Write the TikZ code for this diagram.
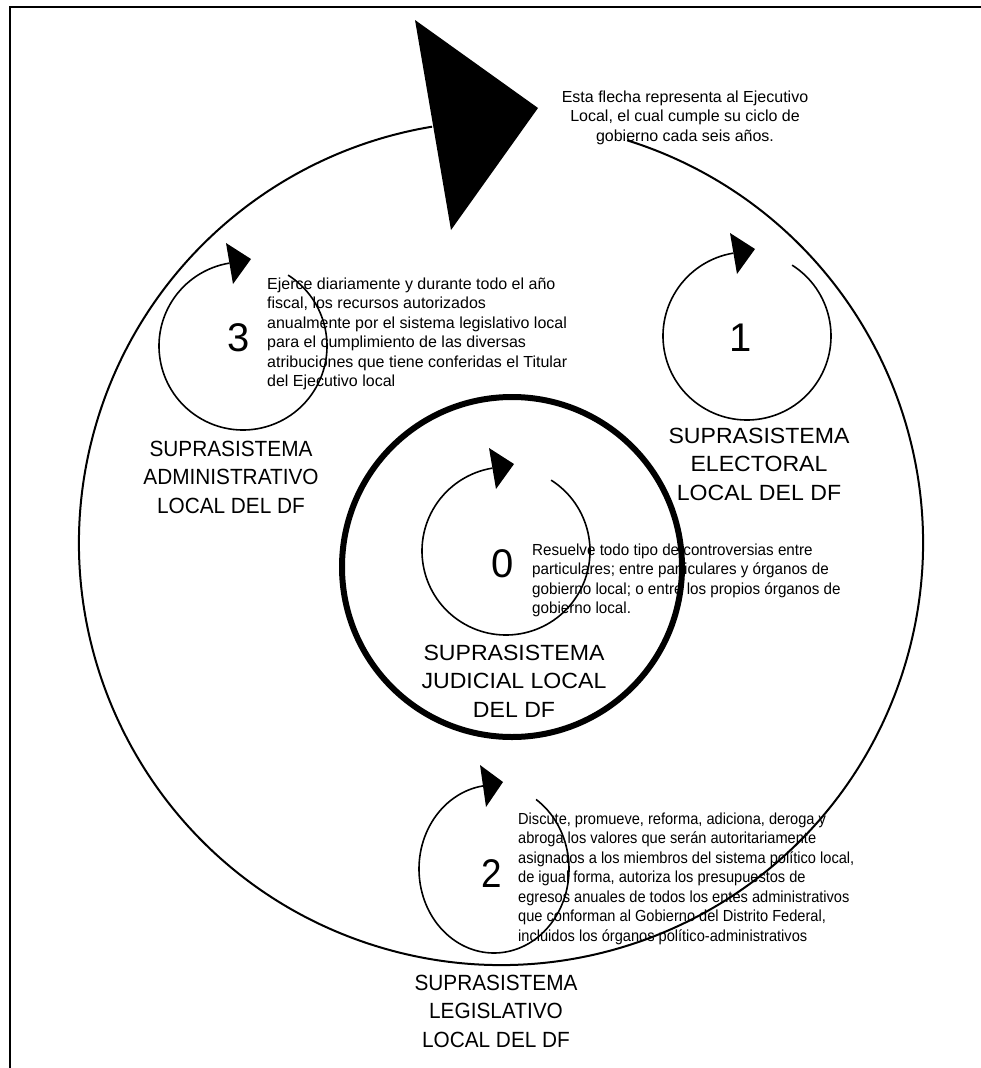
\documentclass[tikz,border=0pt]{standalone}
\usepackage{fontspec}
\setmainfont{Liberation Sans}
\begin{document}
\begin{tikzpicture}[x=1pt,y=1pt,
  frameline/.style={line width=2.3pt},
  cycleline/.style={line width=1.6pt},
  outerline/.style={line width=2pt},
  judline/.style={line width=6pt},
  head/.style={fill=black},
  numeral/.style={font=\fontsize{40}{48}\selectfont, inner sep=0pt},
  sysname/.style={font=\fontsize{22}{28.5}\selectfont, align=center, inner sep=0pt, anchor=base, transform shape},
  note/.style={font=\fontsize{16}{19.5}\selectfont, align=left, inner sep=0pt, anchor=base west, transform shape}
]
\useasboundingbox (0,0) rectangle (981,-1068);

% page frame: top and left rules
\draw[frameline] (10,-1068) -- (10,-7) -- (981,-7);

% outer cycle of the local executive, with its large arrowhead
\coordinate (outer) at (501,-543);
\draw[outerline] (outer) ++(72.6:422) arc[start angle=72.6, end angle=-260.6, radius=422];
\fill[head] (415,-20) -- (538,-108) -- (451,-230) -- cycle;

% judicial suprasystem boundary
\draw[judline] (512,-567) circle[radius=170];

% small cycles: 1 electoral, 3 administrative, 0 judicial
\coordinate (c1) at (747,-336);
\coordinate (c3) at (243,-346);
\coordinate (c0) at (506,-551);
\coordinate (c2) at (494,-869);
\foreach \c in {c1,c3,c0}{
  \draw[cycleline] (\c) ++(57.5:84) arc[start angle=57.5, end angle=-260.7, radius=84];
  \fill[head, shift={(\c)}] (-17,103) -- (8,87) -- (-10,62) -- cycle;
}
% legislative cycle, slightly narrower
\draw[cycleline] (c2) ++(55.9:75 and 84) arc[start angle=55.9, end angle=-261.6, x radius=75, y radius=84];
\fill[head, shift={(c2)}] (-14,104) -- (9,87) -- (-8,62) -- cycle;

% cycle numbers
\node[numeral] (n1) at (741,-338) {1};
\node[numeral] (n3) at (239,-338) {3};
\node[numeral] (n0) at (503,-564) {0};
\node[numeral, xscale=0.92, transform shape] (n2) at (492,-874) {2};

% suprasystem names (anchored on the last line's baseline)
\node[sysname, xscale=1.05] (electoral) at (759,-500) {SUPRASISTEMA\\ELECTORAL\\LOCAL DEL DF};
\node[sysname, xscale=1.05] (judicial) at (514,-717) {SUPRASISTEMA\\JUDICIAL LOCAL\\DEL DF};
\node[sysname, xscale=0.945] (administrativo) at (231,-513) {SUPRASISTEMA\\ADMINISTRATIVO\\LOCAL DEL DF};
\node[sysname, xscale=0.945] (legislativo) at (496,-1047) {SUPRASISTEMA\\LEGISLATIVO\\LOCAL DEL DF};

% explanatory notes (anchored on the last line's baseline)
\node[note, align=center, anchor=base] (ejecutivo) at (685,-141)
  {Esta flecha representa al Ejecutivo\\Local, el cual cumple su ciclo de\\gobierno cada seis años.};
\node[note] (admnote) at (267,-386.5)
  {Ejerce diariamente y durante todo el año\\fiscal, los recursos autorizados\\anualmente por el sistema legislativo local\\para el cumplimiento de las diversas\\atribuciones que tiene conferidas el Titular\\del Ejecutivo local};
\node[note, xscale=0.95] (judnote) at (532,-613.5)
  {Resuelve todo tipo de controversias entre\\particulares; entre particulares y órganos de\\gobierno local; o entre los propios órganos de\\gobierno local.};
\node[note, xscale=0.913] (legnote) at (518,-941)
  {Discute, promueve, reforma, adiciona, deroga y\\abroga los valores que serán autoritariamente\\asignados a los miembros del sistema político local,\\de igual forma, autoriza los presupuestos de\\egresos anuales de todos los entes administrativos\\que conforman al Gobierno del Distrito Federal,\\incluidos los órganos político-administrativos};
\end{tikzpicture}
\end{document}
